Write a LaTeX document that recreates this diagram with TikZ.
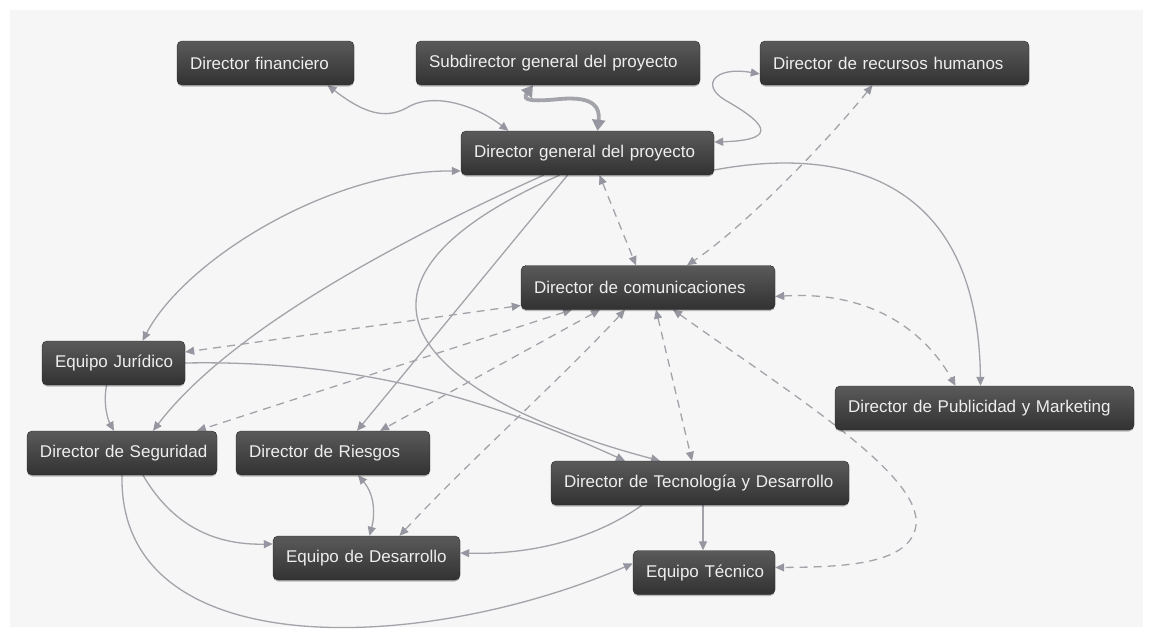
\documentclass[tikz,border=0pt]{standalone}
\usepackage{fontspec}
\setmainfont{Liberation Sans}
\usetikzlibrary{arrows.meta,shadows}

\definecolor{bggray}{RGB}{246,246,246}
\definecolor{boxtop}{RGB}{90,90,90}
\definecolor{boxbot}{RGB}{50,50,50}
\definecolor{boxtext}{RGB}{238,238,238}
\definecolor{linkgray}{RGB}{163,163,170}
\definecolor{tipgray}{RGB}{150,150,160}

\pgfdeclarelayer{back}
\pgfsetlayers{back,main}

\tikzset{
  box/.style={rounded corners=5pt, top color=boxtop, bottom color=boxbot,
    draw=boxbot!85!black, line width=0.4pt, text=boxtext,
    font=\fontsize{17}{20}\selectfont, minimum height=44pt,
    inner xsep=0pt, inner ysep=0pt, align=left, text width=#1,
    execute at begin node={\hspace*{13pt}},
    drop shadow={shadow xshift=0pt, shadow yshift=-1.5pt, opacity=0.25, fill=black}},
  tip/.tip={Triangle[length=9pt,width=8pt,color=tipgray]},
  bigtip/.tip={Triangle[length=11pt,width=13pt,color=tipgray]},
  link/.style={draw=linkgray, line width=1.3pt, -tip},
  both/.style={draw=linkgray, line width=1.3pt, tip-tip},
  dashlink/.style={both, dash pattern=on 8pt off 6pt},
  heavy/.style={draw=linkgray, line width=3.8pt, bigtip-bigtip},
}

\begin{document}
\begin{tikzpicture}[x=1pt,y=-1pt]
\useasboundingbox (0,0) rectangle (1149,632);

% boxes
\node[box=177pt] (fin)   at (265.5,63)  {Director financiero};
\node[box=284pt] (sub)   at (558,63)    {Subdirector general del proyecto};
\node[box=269pt] (rh)    at (894.5,63)  {Director de recursos humanos};
\node[box=253pt] (dg)    at (587.5,153) {Director general del proyecto};
\node[box=254pt] (com)   at (648,287.5) {Director de comunicaciones};
\node[box=143pt] (jur)   at (113.5,363) {Equipo Jurídico};
\node[box=190pt] (seg)   at (122,453)   {Director de Seguridad};
\node[box=194pt] (ries)  at (333,453)   {Director de Riesgos};
\node[box=298pt] (tec)   at (700,483)   {Director de Tecnología y Desarrollo};
\node[box=299pt] (pub)   at (984.5,408) {Director de Publicidad y Marketing};
\node[box=187pt] (eqdes) at (366.5,558) {Equipo de Desarrollo};
\node[box=142pt] (eqtec) at (704,572.5) {Equipo Técnico};

\begin{pgfonlayer}{back}
\fill[white] (0,0) rectangle (1149,632);
\fill[bggray] (10,10) rectangle (1143,627);

% links from the general director
\draw[both] ([xshift=62pt]fin.south) .. controls (370,118) and (390,118) .. (410,106)
  .. controls (435,93) and (475,105) .. ([xshift=-79pt]dg.north);
\draw[heavy] ([xshift=-25pt]sub.south) .. controls (522,100) and (530,102) .. (560,99)
  .. controls (595,96) and (600,108) .. ([xshift=10pt]dg.north);
\draw[both] ([yshift=-11pt]rh.west) .. controls (715,66) and (700,85) .. (725,100)
  .. controls (760,120) and (785,140) .. ([yshift=11pt]dg.east);
\draw[link] ([yshift=-17pt]dg.east) .. controls (820,150) and (978,160) .. ([xshift=-4pt]pub.north);
\draw[both] ([yshift=-18pt]dg.west) .. controls (330,170) and (185,260) .. ([xshift=29pt]jur.north);
\draw[link] ([xshift=-44pt]dg.south) .. controls (400,240) and (230,330) .. ([xshift=31pt]seg.north);
\draw[link] ([xshift=-20pt]dg.south) -- ([xshift=24pt]ries.north);
\draw[link] ([xshift=-28pt]dg.south) .. controls (300,290) and (430,400) .. ([xshift=-40pt]tec.north);

% other solid links
\draw[link] (jur.east) .. controls (350,360) and (480,395) .. ([xshift=-75pt]tec.north);
\draw[link] ([xshift=-7pt]jur.south) .. controls (103,405) and (108,420) .. ([xshift=-8pt]seg.north);
\draw[link] ([xshift=21pt]seg.south) .. controls (175,530) and (220,545) .. ([yshift=14pt]eqdes.west);
\draw[link] (seg.south) .. controls (118,665) and (420,655) .. ([yshift=9pt]eqtec.west);
\draw[both] ([xshift=25pt]ries.south) .. controls (375,495) and (375,515) .. ([xshift=3pt]eqdes.north);
\draw[link] ([xshift=-58pt]tec.south) .. controls (600,535) and (540,555) .. ([yshift=5pt]eqdes.east);
\draw[link] ([xshift=3pt]tec.south) -- ([xshift=-1pt]eqtec.north);

% communications links
\draw[dashlink] ([xshift=-22pt]rh.south) .. controls (820,150) and (740,230) .. ([xshift=39pt]com.north);
\draw[dashlink] ([xshift=12pt]dg.south) -- ([xshift=-12pt]com.north);
\draw[dashlink] ([yshift=-9pt]com.east) .. controls (880,290) and (930,340) .. ([xshift=-29pt]pub.north);
\draw[dashlink] ([xshift=25pt]com.south) .. controls (800,400) and (930,480) .. (915,530)
  .. controls (905,565) and (840,567) .. ([yshift=5pt]eqtec.east);
\draw[dashlink] ([xshift=8pt]com.south) -- ([xshift=-8pt]tec.north);
\draw[dashlink] ([xshift=-23pt]com.south) .. controls (560,380) and (470,460) .. ([xshift=33pt]eqdes.north);
\draw[dashlink] ([xshift=-48pt]com.south) -- ([xshift=47pt]ries.north);
\draw[dashlink] ([xshift=-76pt]com.south) -- ([xshift=75pt]seg.north);
\draw[dashlink] ([yshift=-18pt]com.west) -- ([yshift=11pt]jur.east);
\end{pgfonlayer}
\end{tikzpicture}
\end{document}
